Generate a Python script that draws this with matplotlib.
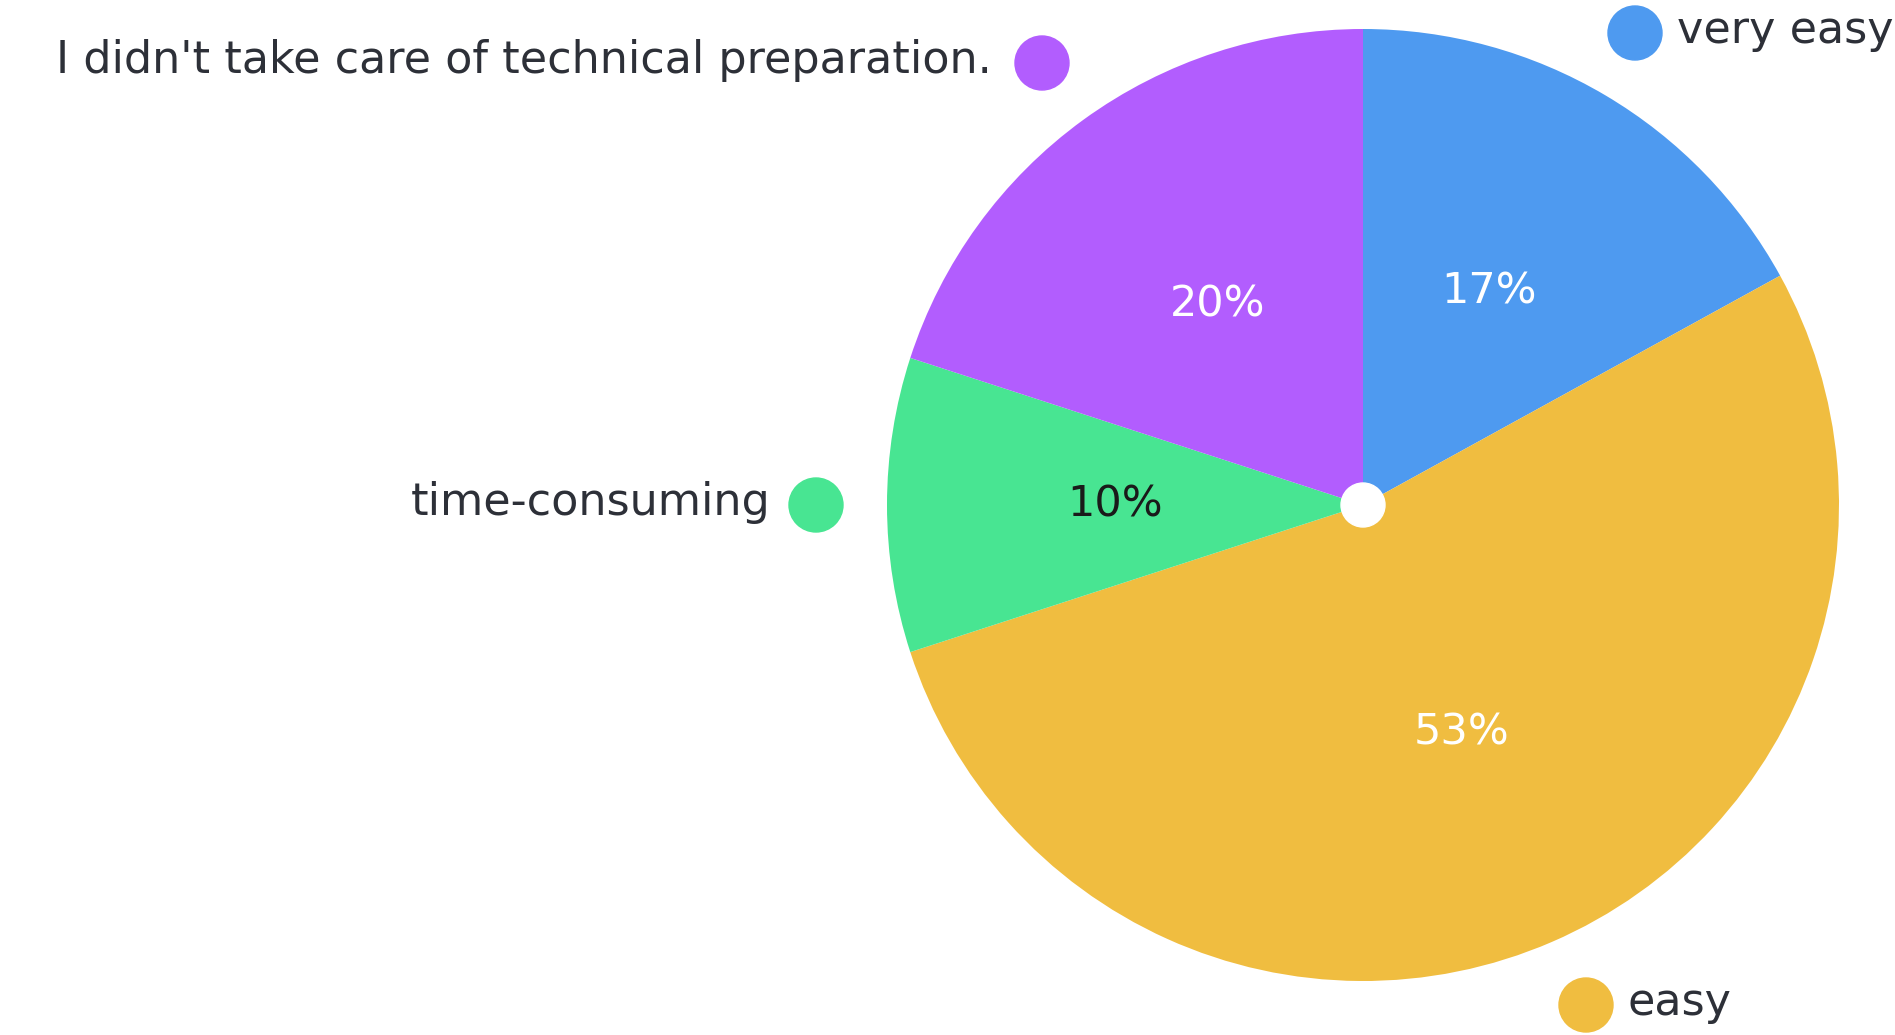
import matplotlib.pyplot as plt
from matplotlib.patches import Circle

# Datos
categorias = ["very easy", "easy", "time-consuming", "I didn't take care of technical preparation."]
valores = [17, 53, 10, 20]
colores = ["#4E9AF0", "#F0BD40", "#48E592", "#B25DFE"]
color_pct = ["white", "white", "#1a1a1a", "white"]

W, H = 1895, 1035
fig = plt.figure(figsize=(W / 100, H / 100), dpi=100)
ax = fig.add_axes([0, 0, 1, 1])

centro = (1363, H - 505)
radio = 476

wedges, textos, pcts = ax.pie(
    valores,
    colors=colores,
    startangle=90,
    counterclock=False,
    center=centro,
    radius=radio,
    autopct=lambda p: "%d%%" % round(p),
    pctdistance=0.52,
    frame=True,
)
ax.set_xlim(0, W)
ax.set_ylim(0, H)
ax.set_aspect("equal")
ax.axis("off")

for t, c in zip(pcts, color_pct):
    t.set_color(c)
    t.set_fontsize(31)
    t.set_fontfamily("DejaVu Sans")

ax.add_patch(Circle(centro, 22, color="white", zorder=5))

texto = "#2D3038"
fuente = dict(fontsize=32, color=texto, family="DejaVu Sans", va="center")

# etiquetas con punto de color (posiciones en pixeles)
etiquetas = [
    # (punto x, punto y, texto x, alineacion)
    (1635, 33, 1677, "left"),
    (1586, 1005, 1628, "left"),
    (816, 505, 771, "right"),
    (1042, 63, 992, "right"),
]
for (px, py, tx, ha), nombre, col in zip(etiquetas, categorias, colores):
    ax.add_patch(Circle((px, H - py), 27, color=col, zorder=5))
    ax.text(tx, H - py + 2, nombre, ha=ha, **fuente)

fig.savefig("out.png", dpi=100)
